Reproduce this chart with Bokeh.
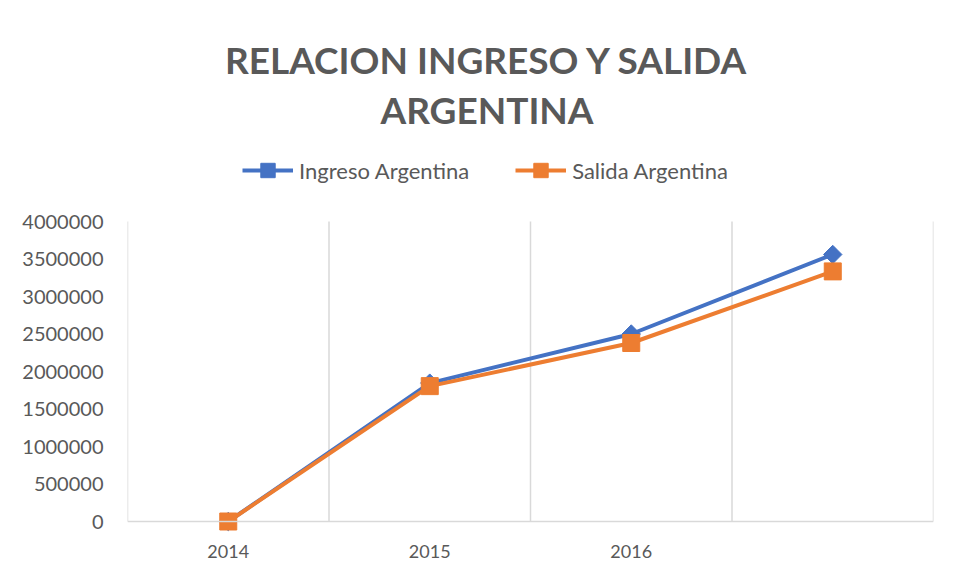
from bokeh.plotting import figure
from bokeh.models import (Range1d, FixedTicker, Span, Label, Legend, LegendItem)
from bokeh.embed import file_html
from bokeh.resources import INLINE

# ---- data ----
years = ["2014", "2015", "2016", ""]
ingreso = [0, 1845000, 2500000, 3560000]
salida = [0, 1805000, 2380000, 3335000]
y_ticks = [0, 500000, 1000000, 1500000, 2000000, 2500000, 3000000, 3500000, 4000000]
title_lines = ["RELACION INGRESO Y SALIDA", "ARGENTINA"]
series_names = ["Ingreso Argentina", "Salida Argentina"]

BLUE = "#4472C4"
ORANGE = "#ED7D31"
GRID = "#D9D9D9"
TEXT = "#595959"
FONT = "Lato"

# ---- layout (pixels) ----
W, H = 962, 580
FRAME_LEFT, FRAME_RIGHT = 127, 933
TOP_TICK_PX, ZERO_PX, FRAME_BOTTOM_PX = 221, 521, 535

xs = list(range(len(years)))
ymax = y_ticks[-1]
px_per = (ZERO_PX - TOP_TICK_PX) / ymax
y_start = -(FRAME_BOTTOM_PX - ZERO_PX) / px_per
y_end = ymax + TOP_TICK_PX / px_per
frame_h = FRAME_BOTTOM_PX

p = figure(width=W, height=H, output_backend="svg", toolbar_location=None,
           x_range=Range1d(-0.5, len(years) - 0.5),
           y_range=Range1d(y_start, y_end),
           min_border_left=FRAME_LEFT, min_border_right=W - FRAME_RIGHT,
           min_border_top=0, min_border_bottom=H - FRAME_BOTTOM_PX)
p.outline_line_color = None
p.background_fill_color = "white"
p.border_fill_color = "white"
p.xgrid.visible = False
p.ygrid.visible = False

# category boundary grid lines (Excel style)
bounds = [i - 0.5 for i in range(len(years) + 1)]
p.segment(x0=bounds, y0=[0] * len(bounds), x1=bounds, y1=[ymax] * len(bounds),
          line_color=GRID, line_width=1.5)
# baseline at zero
p.add_layout(Span(location=0, dimension="width", line_color=GRID, line_width=1.5))

# series
l1 = p.line(xs, ingreso, line_color=BLUE, line_width=4)
m1 = p.scatter(xs, ingreso, marker="square", angle=0.785398, size=13,
               fill_color=BLUE, line_color=BLUE)
l2 = p.line(xs, salida, line_color=ORANGE, line_width=4)
m2 = p.scatter(xs, salida, marker="square", size=17,
               fill_color=ORANGE, line_color=ORANGE)

# axes
p.xaxis.ticker = FixedTicker(ticks=xs)
p.xaxis.major_label_overrides = {i: y for i, y in enumerate(years)}
p.xaxis.axis_line_color = None
p.xaxis.major_tick_line_color = None
p.xaxis.minor_tick_line_color = None
p.xaxis.major_label_text_font = FONT
p.xaxis.major_label_text_font_size = "18px"
p.xaxis.major_label_text_color = TEXT
p.xaxis.major_label_standoff = 3

p.yaxis.ticker = FixedTicker(ticks=y_ticks)
p.yaxis.formatter.use_scientific = False
p.yaxis.axis_line_color = None
p.yaxis.major_tick_line_color = None
p.yaxis.minor_tick_line_color = None
p.yaxis.major_label_text_font = FONT
p.yaxis.major_label_text_font_size = "20px"
p.yaxis.major_label_text_color = TEXT
p.yaxis.major_label_standoff = 18

# title (two centred lines), positioned in frame screen units
title_cx = 486.5 - FRAME_LEFT
for t, mid in zip(title_lines, [59, 109]):
    p.add_layout(Label(x=title_cx, y=frame_h - mid, x_units="screen", y_units="screen",
                       text=t, text_align="center", text_baseline="middle",
                       text_font=FONT, text_font_style="bold",
                       text_font_size="37px", text_color=TEXT))

# legend
legend = Legend(items=[LegendItem(label=series_names[0], renderers=[l1, m1]),
                       LegendItem(label=series_names[1], renderers=[l2, m2])],
                orientation="horizontal", location=(242 - FRAME_LEFT, frame_h - 188),
                label_text_font=FONT, label_text_font_size="22px",
                label_text_color=TEXT, glyph_width=51, glyph_height=36,
                label_standoff=6, spacing=46, padding=0, margin=0,
                border_line_color=None, background_fill_alpha=0)
p.add_layout(legend)

open("out.html", "w").write(file_html(p, INLINE))
